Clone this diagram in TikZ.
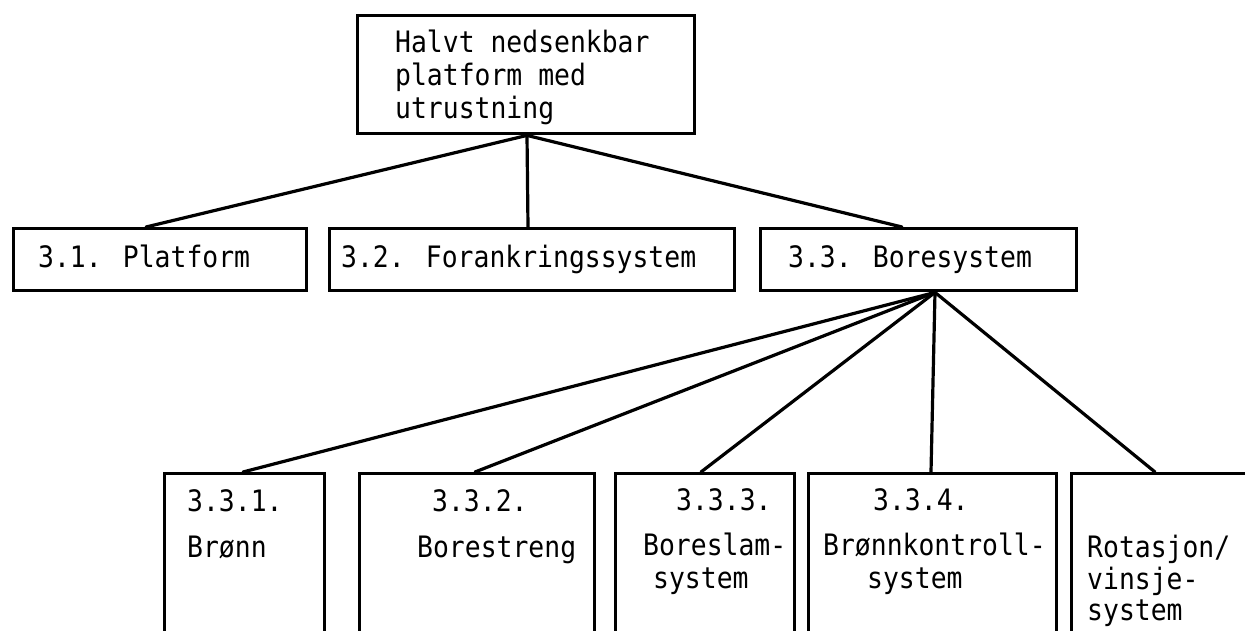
\documentclass[tikz,border=0pt]{standalone}
\usepackage{fontspec}
\newfontfamily\typewriter{DejaVu Sans Mono}[FakeStretch=0.895]
\tikzset{
  box/.style={draw, line width=3.4pt, rectangle, inner sep=0pt, anchor=north west},
  txt/.style={anchor=base west, inner sep=0pt,
    font=\typewriter\fontsize{29.5}{33}\selectfont},
  link/.style={line width=3.2pt, line cap=round},
}
\begin{document}
\begin{tikzpicture}[x=1pt,y=-1pt]
\useasboundingbox (0,0) rectangle (1245,631);
\clip (0,0) rectangle (1245,631);
\fill[white] (0,0) rectangle (1245,631);

% root box
\node[box, minimum width=337pt, minimum height=118pt] (root) at (356,14) {};
\node[txt] (rootT1) at (395,53) {Halvt nedsenkbar};
\node[txt] (rootT2) at (395,86) {platform med};
\node[txt] (rootT3) at (395,119) {utrustning};

% second level
\node[box, minimum width=293pt, minimum height=62pt] (plat) at (12,227) {};
\node[box, minimum width=405pt, minimum height=62pt] (fork) at (328,227) {};
\node[box, minimum width=316pt, minimum height=62pt] (bore) at (759,227) {};
\node[txt] (platT) at (38,268) {3.1. Platform};
\node[txt] (forkT) at (341,268) {3.2. Forankringssystem};
\node[txt] (boreT) at (788,267) {3.3. Boresystem};

% third level (open at the bottom edge)
\node[box, minimum width=160pt, minimum height=200pt] (b1) at (163,472) {};
\node[box, minimum width=235pt, minimum height=200pt] (b2) at (358,472) {};
\node[box, minimum width=179pt, minimum height=200pt] (b3) at (614,472) {};
\node[box, minimum width=248pt, minimum height=200pt] (b4) at (807,472) {};
\node[box, minimum width=200pt, minimum height=200pt] (b5) at (1070,472) {};

\node[txt] (b1a) at (187,511) {3.3.1.};
\node[txt] (b1b) at (187,557) {Brønn};
\node[txt] (b2a) at (432,511) {3.3.2.};
\node[txt] (b2b) at (417,557) {Borestreng};
\node[txt] (b3a) at (676,510) {3.3.3.};
\node[txt] (b3b) at (643,555) {Boreslam-};
\node[txt] (b3c) at (653,588) {system};
\node[txt] (b4a) at (873,510) {3.3.4.};
\node[txt] (b4b) at (823,555) {Brønnkontroll-};
\node[txt] (b4c) at (867,588) {system};
\node[txt] (b5a) at (1087,557) {Rotasjon/};
\node[txt] (b5b) at (1087,589) {vinsje-};
\node[txt] (b5c) at (1087,620) {system};

% connection points
\coordinate (rootJ) at ([xshift=171pt]root.south west);
\coordinate (platJ) at ([xshift=134pt]plat.north west);
\coordinate (forkJ) at ([xshift=200pt]fork.north west);
\coordinate (boreJ) at ([xshift=143pt]bore.north west);
\coordinate (boreS) at ([xshift=176pt]bore.south west);
\coordinate (b1J) at ([xshift=80pt]b1.north west);
\coordinate (b2J) at ([xshift=117pt]b2.north west);
\coordinate (b3J) at ([xshift=87pt]b3.north west);
\coordinate (b4J) at ([xshift=124pt]b4.north west);
\coordinate (b5J) at ([xshift=85pt]b5.north west);

% connectors
\draw[link] (rootJ) -- (platJ);
\draw[link] (rootJ) -- (forkJ);
\draw[link] (rootJ) -- (boreJ);
\foreach \c in {b1J,b2J,b3J,b4J,b5J}
  \draw[link] (boreS) -- (\c);
\end{tikzpicture}
\end{document}
